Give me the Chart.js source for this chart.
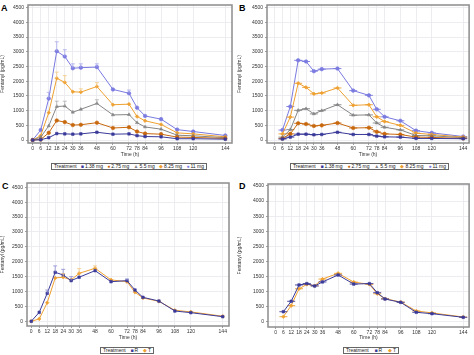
<!DOCTYPE html>
<html><head><meta charset="utf-8">
<script src="https://cdn.jsdelivr.net/npm/chart.js@4/dist/chart.umd.min.js"></script>
<style>
html,body{margin:0;padding:0;background:#fff;width:474px;height:355px;overflow:hidden;font-family:"Liberation Sans",Arial,sans-serif}
canvas{position:absolute}
.lbl{position:absolute;font-weight:bold;font-size:9px;color:#000}
.leg{position:absolute;border:1px solid #666;font-size:5px;line-height:7px;height:7px;display:flex;align-items:center;justify-content:space-between;padding:0 2px;box-sizing:border-box;color:#222;white-space:nowrap}
.leg span b{font-weight:normal;margin-right:1px}
</style></head><body>
<div class="lbl" style="left:1px;top:3px">A</div>
<div class="lbl" style="left:239px;top:3px">B</div>
<div class="lbl" style="left:2px;top:181px">C</div>
<div class="lbl" style="left:239px;top:181px">D</div>
<canvas id="cA" width="237" height="160" style="left:0;top:0"></canvas>
<canvas id="cB" width="237" height="160" style="left:237px;top:0"></canvas>
<canvas id="cC" width="237" height="170" style="left:0;top:175px"></canvas>
<canvas id="cD" width="237" height="170" style="left:237px;top:175px"></canvas>
<div id="legA" class="leg" style="left:51px;top:163px;width:156px"></div>
<div id="legB" class="leg" style="left:290px;top:163px;width:159px"></div>
<div id="legC" class="leg" style="left:100px;top:347px;width:54px;height:7px"></div>
<div id="legD" class="leg" style="left:343px;top:347px;width:56px;height:7px"></div>
<script>
// ---- data ----
const timesAll = [0,6,12,18,24,30,36,48,60,72,78,84,96,108,120,144];
const timesLate = [6,12,18,24,30,36,48,60,72,78,84,96,108,120,144];
const xTickValues = [0,6,12,18,24,30,36,48,60,72,78,84,96,108,120,144];
const yTickValues = [0,500,1000,1500,2000,2500,3000,3500,4000,4500];
const doseLabels = ["1.38 mg","2.75 mg","5.5 mg","8.25 mg","11 mg"];
const trtLabels = ["R","T"];

const a138 = [0,10,80,220,210,200,210,265,200,210,150,120,110,45,45,30];
const a275 = [0,20,245,665,610,510,520,590,410,435,290,220,200,100,90,55];
const a55  = [0,100,480,1140,1155,945,1045,1245,855,865,590,445,370,165,145,80];
const a825 = [0,150,930,2100,1960,1640,1630,1820,1200,1220,800,655,530,245,210,110];
const a11  = [0,340,1410,3020,2840,2440,2460,2480,1720,1590,1100,820,710,355,290,155];
const aErr55  = [null,null,null,1320,1320,null,null,1370,null,null,null,null,null,null,null,null];
const aErr825 = [null,null,null,2310,2190,null,1740,1950,null,null,null,null,null,null,null,null];
const aErr11  = [null,null,1620,3340,3070,2590,2590,2590,null,1700,null,null,null,null,null,null];

const b138 = [35,100,200,200,180,190,265,190,190,135,110,100,55,55,45];
const b275 = [55,210,570,545,480,500,580,410,420,280,210,190,100,90,55];
const b55  = [100,355,1010,1065,890,1000,1200,845,855,580,435,345,155,145,80];
const b825 = [210,780,1930,1790,1570,1600,1770,1180,1200,790,630,500,235,190,100];
const b11  = [340,1140,2710,2670,2340,2410,2430,1680,1520,1045,790,655,320,245,120];

const cR = [0,300,940,1645,1555,1365,1480,1700,1330,1365,1050,805,680,345,290,155];
const cT = [0,80,625,1455,1480,1390,1610,1780,1390,1330,975,785,670,370,315,170];
const cErrR = [null,null,1050,1860,1745,1500,null,null,null,1420,null,null,null,null,null,null];
const cErrT = [null,null,null,null,1600,null,1770,1860,null,null,null,null,null,null,null,null];

const dR = [340,685,1225,1270,1190,1325,1555,1255,1270,970,760,650,320,275,155];
const dT = [175,540,1100,1245,1200,1420,1610,1320,1245,935,770,660,365,300,165];

// ---- styles ----
const doseColors = ["#3a3a9a","#c8680e","#858585","#eea030","#7a7ae0"];
const doseErrColors = ["#8a8ac8","#e0a870","#b0b0b0","#f4c880","#a8a8ee"];
const doseMarkers = ["rect","circle","triangle","rectRot","circle"];
const trtColors = ["#3a3a9a","#eea030"];
const trtErrColors = ["#8a8ad0","#f4c880"];
const trtMarkers = ["rect","rectRot"];
const FONT = "'Liberation Sans', Arial, sans-serif";

function pts(ts, ys){ return ts.map((t,i)=>({x:t,y:ys[i]})); }

const errPlugin = {
  id:'errbars',
  afterDatasetsDraw(chart){
    const errs = chart.options.plugins.errbars.sets || [];
    const ctx = chart.ctx, xs = chart.scales.x, ys = chart.scales.y;
    errs.forEach(e=>{
      ctx.save(); ctx.strokeStyle = e.color; ctx.lineWidth = 0.8;
      e.up.forEach((u,i)=>{
        if(u==null) return;
        const px = xs.getPixelForValue(e.times[i]);
        const p0 = ys.getPixelForValue(e.vals[i]);
        const p1 = ys.getPixelForValue(u);
        ctx.beginPath(); ctx.moveTo(px,p0); ctx.lineTo(px,p1);
        ctx.moveTo(px-2,p1); ctx.lineTo(px+2,p1); ctx.stroke();
      });
      ctx.restore();
    });
  }
};
const framePlugin = {
  id:'frame',
  afterDraw(chart){
    const a = chart.chartArea, ctx = chart.ctx;
    ctx.save(); ctx.strokeStyle = '#8c8c8c'; ctx.lineWidth = 1.5;
    ctx.strokeRect(a.left, a.top, a.right-a.left, a.bottom-a.top);
    ctx.restore();
  }
};

function makeChart(id, datasets, errSets, cfg){
  return new Chart(document.getElementById(id), {
    type:'line',
    data:{datasets},
    plugins:[errPlugin, framePlugin],
    options:{
      responsive:false, animation:false, devicePixelRatio:1,
      layout:{padding:{top:cfg.padTop, right:cfg.padRight, left:0, bottom:0}},
      plugins:{legend:{display:false}, tooltip:{enabled:false}, errbars:{sets:errSets}},
      scales:{
        x:{type:'linear', min:cfg.xmin, max:cfg.xmax,
           afterBuildTicks:s=>{s.ticks = xTickValues.map(v=>({value:v}));},
           afterFit:s=>{s.height = cfg.xH;},
           ticks:{autoSkip:false, maxRotation:0, padding:1, font:{size:5, family:FONT}, color:'#333', callback:v=>String(v)},
           grid:{color:'#e8e8ee', lineWidth:0.8, tickLength:2, tickColor:'#888'},
           border:{display:false},
           title:{display:true, text:'Time (h)', font:{size:5, family:FONT}, color:'#333', padding:{top:1,bottom:cfg.titlePad}}},
        y:{type:'linear', min:cfg.ymin, max:cfg.ymax,
           afterBuildTicks:s=>{s.ticks = yTickValues.map(v=>({value:v}));},
           afterFit:s=>{s.width = cfg.yW;},
           ticks:{padding:2, font:{size:5, family:FONT}, color:'#333', callback:v=>String(v)},
           grid:{color:'#e8e8ee', lineWidth:0.8, tickLength:2, tickColor:'#888'},
           border:{display:false},
           title:{display:true, text:'Fentanyl (pg/mL)', font:{size:5, family:FONT}, color:'#333', padding:{top:0,bottom:1}}}
      }
    }
  });
}

function ds(data, color, marker, extra){
  return Object.assign({data, borderColor:color, backgroundColor:color, borderWidth:1,
    pointStyle:marker, pointRadius:1.8, pointBorderWidth:0.6, tension:0}, extra||{});
}
function dashDs(data, color){
  return {data, showLine:false, borderColor:color, backgroundColor:color, pointStyle:'line',
    pointRadius:4, pointBorderWidth:0.9};
}

// Panel A
const aSeries = [a138,a275,a55,a825,a11];
makeChart('cA', aSeries.map((s,i)=>ds(pts(timesAll,s), doseColors[i], doseMarkers[i])),
  [{times:timesAll, vals:a55, up:aErr55, color:doseErrColors[2]},
   {times:timesAll, vals:a825, up:aErr825, color:doseErrColors[3]},
   {times:timesAll, vals:a11, up:aErr11, color:doseErrColors[4]}],
  {xmin:-3.5, xmax:149, ymin:-100, ymax:4590, padTop:2, padRight:5, xH:17, yW:28, titlePad:2});

// Panel B
const bSeries = [b138,b275,b55,b825,b11];
const bDs = [];
bSeries.forEach((s,i)=>{ bDs.push(ds(pts(timesLate,s), doseColors[i], doseMarkers[i])); bDs.push(dashDs(pts(timesLate,s), doseColors[i])); });
makeChart('cB', bDs, [],
  {xmin:-5.8, xmax:148.5, ymin:-100, ymax:4590, padTop:2, padRight:3, xH:17, yW:30, titlePad:2});

// Panel C
makeChart('cC', [ds(pts(timesAll,cR), trtColors[0], trtMarkers[0]), ds(pts(timesAll,cT), trtColors[1], trtMarkers[1])],
  [{times:timesAll, vals:cR, up:cErrR, color:trtErrColors[0]},
   {times:timesAll, vals:cT, up:cErrT, color:trtErrColors[1]}],
  {xmin:-3.2, xmax:148.7, ymin:-158, ymax:4644, padTop:8, padRight:8, xH:19, yW:27, titlePad:4});

// Panel D
makeChart('cD', [ds(pts(timesLate,dR), trtColors[0], trtMarkers[0]), dashDs(pts(timesLate,dR), trtColors[0]),
                 ds(pts(timesLate,dT), trtColors[1], trtMarkers[1]), dashDs(pts(timesLate,dT), trtColors[1])],
  [], {xmin:-5.8, xmax:148.5, ymin:-166, ymax:4566, padTop:9, padRight:2, xH:18, yW:31, titlePad:4});

// Legends
const glyph = {rect:'\u25A0', circle:'\u25CF', triangle:'\u25B2', rectRot:'\u25C6'};
function buildLegend(id, labels, colors, markers){
  const el = document.getElementById(id);
  let html = '<span>Treatment</span>';
  labels.forEach((l,i)=>{ html += '<span><b style="color:'+colors[i]+'">'+glyph[markers[i]]+'</b>'+l+'</span>'; });
  el.innerHTML = html;
}
buildLegend('legA', doseLabels, doseColors, doseMarkers);
buildLegend('legB', doseLabels, doseColors, doseMarkers);
buildLegend('legC', trtLabels, trtColors, trtMarkers);
buildLegend('legD', trtLabels, trtColors, trtMarkers);
</script>
</body></html>
